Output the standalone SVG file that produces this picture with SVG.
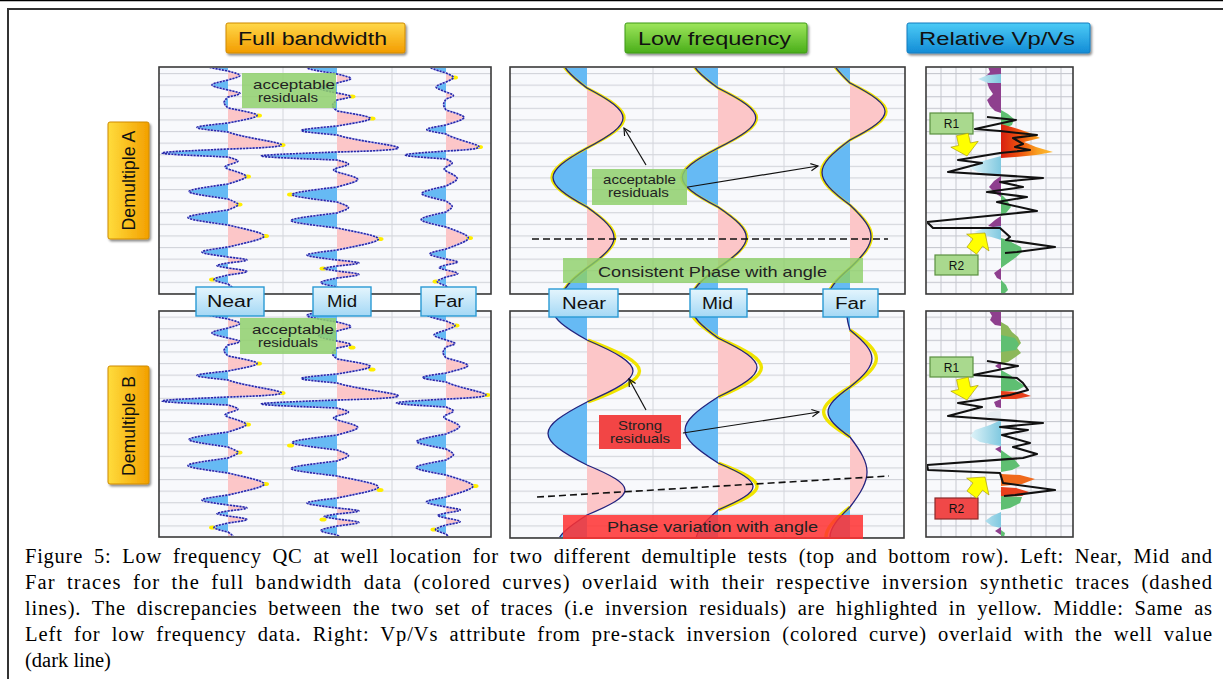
<svg xmlns="http://www.w3.org/2000/svg" width="1223" height="679" viewBox="0 0 1223 679">
<style>
.hdr{font-family:"Liberation Sans",Arial,sans-serif;font-size:18px;fill:#111}
.lbl{font-family:"Liberation Sans",Arial,sans-serif;font-size:16px;fill:#111}
.sm{font-family:"Liberation Sans",Arial,sans-serif;font-size:13px;fill:#222}
.bar{font-family:"Liberation Sans",Arial,sans-serif;font-size:15px;fill:#222}
.cap{font-family:"Liberation Serif","Times New Roman",serif;font-size:20.5px;fill:#000}
.just{word-spacing:5px}
.rt{font-family:"Liberation Sans",Arial,sans-serif;font-size:12px;fill:#111;text-anchor:middle}
.bord{fill:none;stroke:#3a3a3a;stroke-width:1.6}
.vg{stroke:#d4d6dc;stroke-width:1}
.vgr{stroke:#c6c8cf;stroke-width:1}
.neg{fill:#66baf4}
.pos{fill:#fcc6c8}
.fbline{fill:none;stroke:#b8b8f2;stroke-width:1.6}
.fbdash{fill:none;stroke:#2626a6;stroke-width:1.6;stroke-dasharray:2 1.2}
.lfy{fill:none;stroke:#f0e400;stroke-width:2.6}
.lfy2{fill:none;stroke:#f0e400;stroke-width:3.4}
.lfn{fill:none;stroke:#23237e;stroke-width:1.3}
.spot{fill:#ffee00}
.nmf{fill:url(#gLab);stroke:#2a9ad4;stroke-width:1.4}
.blk{fill:none;stroke:#111;stroke-width:2.1;stroke-linejoin:round}
.arr{stroke:#111;stroke-width:1.2;fill:none;marker-end:url(#ah)}
.dash{stroke:#111;stroke-width:1.6;stroke-dasharray:7 4;fill:none}
.pur{fill:#8e3f8e}
.lb{fill:url(#gLB)}
.grn{fill:#5fbf72}
.olv{fill:#8cb85a}
.red{fill:#e8401c}
.ya{fill:#ffff00;stroke:#a89a00;stroke-width:0.6}
.rg{fill:#a9d98e;stroke:#5b8f40;stroke-width:1.2}
.rr{fill:#f04848;stroke:#8a2a2a;stroke-width:1.2}
.gl{fill:#8fd06c;opacity:0.85}
</style>
<defs>
<linearGradient id="gOr" x1="0" y1="0" x2="0" y2="1"><stop offset="0" stop-color="#ffd84a"/><stop offset="1" stop-color="#f39c00"/></linearGradient>
<linearGradient id="gOrH" x1="0" y1="0" x2="1" y2="0"><stop offset="0" stop-color="#ffdc3c"/><stop offset="1" stop-color="#f3a000"/></linearGradient>
<linearGradient id="gGr" x1="0" y1="0" x2="0" y2="1"><stop offset="0" stop-color="#9ee65c"/><stop offset="1" stop-color="#4aae1a"/></linearGradient>
<linearGradient id="gBl" x1="0" y1="0" x2="0" y2="1"><stop offset="0" stop-color="#4ccbf6"/><stop offset="1" stop-color="#138cd6"/></linearGradient>
<linearGradient id="gLab" x1="0" y1="0" x2="0" y2="1"><stop offset="0" stop-color="#e4f5fd"/><stop offset="1" stop-color="#a4d8f5"/></linearGradient>
<linearGradient id="gLB" gradientUnits="userSpaceOnUse" x1="968" y1="0" x2="1001" y2="0"><stop offset="0" stop-color="#e8f7fb"/><stop offset="1" stop-color="#80c9e0"/></linearGradient>
<linearGradient id="gOR" gradientUnits="userSpaceOnUse" x1="1001" y1="0" x2="1053" y2="0"><stop offset="0" stop-color="#d82010"/><stop offset="0.4" stop-color="#f05a10"/><stop offset="0.7" stop-color="#f8a020"/><stop offset="1" stop-color="#ffbb30"/></linearGradient>
<pattern id="hgrid" patternUnits="userSpaceOnUse" x="0" y="73" width="20" height="11.6"><rect width="20" height="11.6" fill="#f8f9fc"/><rect width="20" height="1.1" fill="#d2d4da"/></pattern>
<pattern id="hgridR" patternUnits="userSpaceOnUse" x="0" y="73" width="20" height="11.6"><rect width="20" height="11.6" fill="#f8f9fc"/><rect width="20" height="1.1" fill="#c6c8cf"/></pattern>
<filter id="sh" x="-10%" y="-20%" width="125%" height="150%"><feDropShadow dx="1.5" dy="2" stdDeviation="1.2" flood-opacity="0.45"/></filter>
<marker id="ah" viewBox="0 0 10 10" refX="9" refY="5" markerWidth="9" markerHeight="9" markerUnits="userSpaceOnUse" orient="auto"><path d="M1,1 L9,5 L1,9" fill="none" stroke="#111" stroke-width="1.3"/></marker>
<clipPath id="cLA"><rect x="160" y="68" width="330" height="225"/></clipPath>
<clipPath id="cLB"><rect x="160" y="312" width="330" height="224"/></clipPath>
<clipPath id="cMA"><rect x="511" y="68" width="393" height="225"/></clipPath>
<clipPath id="cMB"><rect x="511" y="312" width="392" height="225"/></clipPath>
<clipPath id="cRA"><rect x="927" y="68" width="145" height="225"/></clipPath>
<clipPath id="cRB"><rect x="927" y="312" width="145" height="224"/></clipPath>
<path id="fbS" vector-effect="non-scaling-stroke" d="M0,58 C-34.7,64.5 -34.7,64.5 0,71 C16,75.5 16,75.5 0,80 C-21.3,85 -21.3,85 0,90 C16,93.5 16,93.5 0,97 C-5.3,102.5 -5.3,102.5 0,108 C38.7,115.5 38.7,115.5 0,123 C-41.3,127.5 -41.3,127.5 0,132 C27,142 105,146 0,149 C-88,153 -88,153 0,157 C13.3,161 13.3,161 0,165 C-4,167 -4,167 0,169 C24,176.5 24,176.5 0,184 C-52,191.5 -52,191.5 0,199 C13.3,204.5 13.3,204.5 0,210 C-53.3,217.5 -53.3,217.5 0,225 C48,236 48,236 0,247 C-34.7,252 -34.7,252 0,257 C25.3,260 25.3,260 0,263 C-14.7,265.5 -14.7,265.5 0,268 C25.3,271.5 25.3,271.5 0,275 C-18.7,279.5 -18.7,279.5 0,284 C8,290 8,290 0,296"/>
<path id="fbN" d="M0,58 C-34.7,64.5 -34.7,64.5 0,71Z M0,80 C-21.3,85 -21.3,85 0,90Z M0,97 C-5.3,102.5 -5.3,102.5 0,108Z M0,123 C-41.3,127.5 -41.3,127.5 0,132Z M0,149 C-88,153 -88,153 0,157Z M0,165 C-4,167 -4,167 0,169Z M0,184 C-52,191.5 -52,191.5 0,199Z M0,210 C-53.3,217.5 -53.3,217.5 0,225Z M0,247 C-34.7,252 -34.7,252 0,257Z M0,263 C-14.7,265.5 -14.7,265.5 0,268Z M0,275 C-18.7,279.5 -18.7,279.5 0,284Z"/>
<path id="fbP" d="M0,71 C16,75.5 16,75.5 0,80Z M0,90 C16,93.5 16,93.5 0,97Z M0,108 C38.7,115.5 38.7,115.5 0,123Z M0,132 C27,142 105,146 0,149Z M0,157 C13.3,161 13.3,161 0,165Z M0,169 C24,176.5 24,176.5 0,184Z M0,199 C13.3,204.5 13.3,204.5 0,210Z M0,225 C48,236 48,236 0,247Z M0,257 C25.3,260 25.3,260 0,263Z M0,268 C25.3,271.5 25.3,271.5 0,275Z M0,284 C8,290 8,290 0,296Z"/>
<path id="lfAS" vector-effect="non-scaling-stroke" d="M0,28 C-33.3,53.4 -33.3,62.6 0,88 C48,113.4 48,122.6 0,148 C-45.3,173 -45.3,182 0,207 C36,232.9 36,242.1 0,268 C-33.3,293.4 -33.3,302.6 0,328"/>
<path id="lfAN" d="M0,28 C-33.3,53.4 -33.3,62.6 0,88Z M0,148 C-45.3,173 -45.3,182 0,207Z M0,268 C-33.3,293.4 -33.3,302.6 0,328Z"/>
<path id="lfAP" d="M0,88 C48,113.4 48,122.6 0,148Z M0,207 C36,232.9 36,242.1 0,268Z"/>
<path id="lfFS" vector-effect="non-scaling-stroke" d="M0,23 C-26.7,48.4 -26.7,57.6 0,83 C46.7,107.2 46.7,115.8 0,140 C-37.3,167.6 -37.3,177.4 0,205 C28,231.7 28,241.3 0,268 C-29.3,293.4 -29.3,302.6 0,328"/>
<path id="lfFN" d="M0,23 C-26.7,48.4 -26.7,57.6 0,83Z M0,140 C-37.3,167.6 -37.3,177.4 0,205Z M0,268 C-29.3,293.4 -29.3,302.6 0,328Z"/>
<path id="lfFP" d="M0,83 C46.7,107.2 46.7,115.8 0,140Z M0,205 C28,231.7 28,241.3 0,268Z"/>
<path id="bNS" d="M0,280 C-45.3,305.4 -45.3,314.6 0,340 C61.3,366.3 61.3,375.7 0,402 C-52,428.7 -52,438.3 0,465 C50.7,486.2 50.7,493.8 0,515 C-40,540.4 -40,549.6 0,575"/>
<path id="bNN" d="M0,280 C-45.3,305.4 -45.3,314.6 0,340Z M0,402 C-52,428.7 -52,438.3 0,465Z M0,515 C-40,540.4 -40,549.6 0,575Z"/>
<path id="bNP" d="M0,340 C61.3,366.3 61.3,375.7 0,402Z M0,465 C50.7,486.2 50.7,493.8 0,515Z"/>
<path id="bNY" vector-effect="non-scaling-stroke" d="M0,340 C61.3,366.3 61.3,375.7 0,402"/>
<path id="bMS" d="M0,278 C-34.7,303.4 -34.7,312.6 0,338 C52,363 52,372 0,397 C-44,425 -44,435 0,463 C46.7,482.9 46.7,490.1 0,510 C-29.3,535.4 -29.3,544.6 0,570"/>
<path id="bMN" d="M0,278 C-34.7,303.4 -34.7,312.6 0,338Z M0,397 C-44,425 -44,435 0,463Z M0,510 C-29.3,535.4 -29.3,544.6 0,570Z"/>
<path id="bMP" d="M0,338 C52,363 52,372 0,397Z M0,463 C46.7,482.9 46.7,490.1 0,510Z"/>
<path id="bMY" vector-effect="non-scaling-stroke" d="M0,278 C-34.7,303.4 -34.7,312.6 0,338 C52,363 52,372 0,397 M0,463 C46.7,482.9 46.7,490.1 0,510"/>
<path id="bFS" d="M0,300 C-4,312.7 -4,317.3 0,330 C29.3,354.2 29.3,362.8 0,387 C-29.3,408.2 -29.3,415.8 0,437 C22.7,466.7 22.7,477.3 0,507 C-26.7,532.4 -26.7,541.6 0,567"/>
<path id="bFN" d="M0,300 C-4,312.7 -4,317.3 0,330Z M0,387 C-29.3,408.2 -29.3,415.8 0,437Z M0,507 C-26.7,532.4 -26.7,541.6 0,567Z"/>
<path id="bFP" d="M0,330 C29.3,354.2 29.3,362.8 0,387Z M0,437 C22.7,466.7 22.7,477.3 0,507Z"/>
<path id="bFY" vector-effect="non-scaling-stroke" d="M0,330 C29.3,354.2 29.3,362.8 0,387 C-29.3,408.2 -29.3,415.8 0,437 M0,507 C-26.7,532.4 -26.7,541.6 0,567"/>
<path id="yar" d="M-6,-22 L6,-22 L6,-12 L14,-12 L0,0 L-14,-12 L-6,-12 Z"/>
</defs>

<rect width="1223" height="679" fill="#fff"/>
<g id="frame">
<path d="M0,0.6H1223" stroke="#000" stroke-width="1.2"/>
<path d="M8,679V9H1223" fill="none" stroke="#333" stroke-width="2"/>
</g>

<g id="hdr-full"><rect x="226" y="23" width="179" height="30" rx="2" fill="url(#gOr)" stroke="#cf8a00" filter="url(#sh)"/><text class="hdr" x="238" y="45" textLength="149" lengthAdjust="spacingAndGlyphs">Full bandwidth</text></g>
<g id="hdr-low"><rect x="625" y="23" width="182" height="30" rx="2" fill="url(#gGr)" stroke="#3f9a16" filter="url(#sh)"/><text class="hdr" x="638" y="45" textLength="153" lengthAdjust="spacingAndGlyphs">Low frequency</text></g>
<g id="hdr-vpvs"><rect x="907" y="23" width="183" height="30" rx="2" fill="url(#gBl)" stroke="#107cc0" filter="url(#sh)"/><text class="hdr" x="919" y="45" textLength="156" lengthAdjust="spacingAndGlyphs">Relative Vp/Vs</text></g>
<g id="row-a"><rect x="108" y="122" width="41" height="117" rx="2" fill="url(#gOrH)" stroke="#cf8a00" filter="url(#sh)"/><text class="hdr" text-anchor="middle" transform="translate(134.5,180.5) rotate(-90)" textLength="100" lengthAdjust="spacingAndGlyphs">Demultiple A</text></g>
<g id="row-b"><rect x="108" y="366" width="41" height="118" rx="2" fill="url(#gOrH)" stroke="#cf8a00" filter="url(#sh)"/><text class="hdr" text-anchor="middle" transform="translate(134.5,426) rotate(-90)" textLength="100" lengthAdjust="spacingAndGlyphs">Demultiple B</text></g>

<g id="panel-fb-a">
<rect x="159" y="67" width="332" height="227" fill="url(#hgrid)"/>
<path class="vg" d="M283,67V294M392,67V294"/>
<g clip-path="url(#cLA)">
<use href="#fbN" class="neg" transform="translate(228,0)"/><use href="#fbP" class="pos" transform="translate(228,0)"/>
<use href="#fbN" class="neg" transform="translate(337,3) scale(1.15,1)"/><use href="#fbP" class="pos" transform="translate(337,3) scale(1.15,1)"/>
<use href="#fbN" class="neg" transform="translate(446,2) scale(0.62,1)"/><use href="#fbP" class="pos" transform="translate(446,2) scale(0.62,1)"/>
<g class="spot"><ellipse cx="258.5" cy="115.5" rx="3.5" ry="2"/><ellipse cx="282" cy="145" rx="3.5" ry="2"/><ellipse cx="247.5" cy="176.5" rx="3.5" ry="2"/><ellipse cx="239" cy="204.5" rx="3.5" ry="2"/><ellipse cx="265.5" cy="236" rx="3.5" ry="2"/><ellipse cx="212.5" cy="279.5" rx="3.5" ry="2"/>
<ellipse cx="352" cy="96.5" rx="3.5" ry="2"/><ellipse cx="372" cy="118.5" rx="3.5" ry="2"/><ellipse cx="290.5" cy="194.5" rx="3.5" ry="2"/><ellipse cx="380" cy="239" rx="3.5" ry="2"/><ellipse cx="323" cy="268.5" rx="3.5" ry="2"/>
<ellipse cx="454.5" cy="77.5" rx="3.5" ry="2"/><ellipse cx="479.5" cy="147" rx="3.5" ry="2"/><ellipse cx="469.5" cy="238" rx="3.5" ry="2"/><ellipse cx="436" cy="281.5" rx="3.5" ry="2"/></g>
<use href="#fbS" class="fbline" transform="translate(228,0)"/><use href="#fbS" class="fbdash" transform="translate(228,0)"/>
<use href="#fbS" class="fbline" transform="translate(337,3) scale(1.15,1)"/><use href="#fbS" class="fbdash" transform="translate(337,3) scale(1.15,1)"/>
<use href="#fbS" class="fbline" transform="translate(446,2) scale(0.62,1)"/><use href="#fbS" class="fbdash" transform="translate(446,2) scale(0.62,1)"/>
</g>
<rect class="bord" x="159" y="67" width="332" height="227"/>
</g>
<g id="note-fb-a"><rect class="gl" x="242" y="73" width="94" height="35"/><text class="sm" x="253" y="89" textLength="82" lengthAdjust="spacingAndGlyphs">acceptable</text><text class="sm" x="258" y="102" textLength="60" lengthAdjust="spacingAndGlyphs">residuals</text></g>

<g id="panel-fb-b">
<rect x="159" y="311" width="332" height="226" fill="url(#hgrid)"/>
<path class="vg" d="M283,311V537M392,311V537"/>
<g clip-path="url(#cLB)">
<use href="#fbN" class="neg" transform="translate(228,248)"/><use href="#fbP" class="pos" transform="translate(228,248)"/>
<use href="#fbN" class="neg" transform="translate(337,251) scale(1.15,1)"/><use href="#fbP" class="pos" transform="translate(337,251) scale(1.15,1)"/>
<use href="#fbN" class="neg" transform="translate(446,250) scale(0.75,1)"/><use href="#fbP" class="pos" transform="translate(446,250) scale(0.75,1)"/>
<g class="spot"><ellipse cx="258.5" cy="363.5" rx="3.5" ry="2"/><ellipse cx="282" cy="393" rx="3.5" ry="2"/><ellipse cx="247.5" cy="424.5" rx="3.5" ry="2"/><ellipse cx="239" cy="452.5" rx="3.5" ry="2"/><ellipse cx="265.5" cy="484" rx="3.5" ry="2"/><ellipse cx="212.5" cy="527.5" rx="3.5" ry="2"/>
<ellipse cx="352" cy="347.5" rx="3.5" ry="2"/><ellipse cx="372" cy="369.5" rx="3.5" ry="2"/><ellipse cx="290.5" cy="445.5" rx="3.5" ry="2"/><ellipse cx="380" cy="490" rx="3.5" ry="2"/><ellipse cx="323" cy="519.5" rx="3.5" ry="2"/>
<ellipse cx="456" cy="325.5" rx="3.5" ry="2"/><ellipse cx="487" cy="395" rx="3.5" ry="2"/><ellipse cx="475" cy="486" rx="3.5" ry="2"/><ellipse cx="434" cy="529.5" rx="3.5" ry="2"/></g>
<use href="#fbS" class="fbline" transform="translate(228,248)"/><use href="#fbS" class="fbdash" transform="translate(228,248)"/>
<use href="#fbS" class="fbline" transform="translate(337,251) scale(1.15,1)"/><use href="#fbS" class="fbdash" transform="translate(337,251) scale(1.15,1)"/>
<use href="#fbS" class="fbline" transform="translate(446,250) scale(0.75,1)"/><use href="#fbS" class="fbdash" transform="translate(446,250) scale(0.75,1)"/>
</g>
<rect class="bord" x="159" y="311" width="332" height="226"/>
</g>
<g id="note-fb-b"><rect class="gl" x="240" y="318" width="96" height="36"/><text class="sm" x="252" y="334" textLength="82" lengthAdjust="spacingAndGlyphs">acceptable</text><text class="sm" x="258" y="347" textLength="60" lengthAdjust="spacingAndGlyphs">residuals</text></g>

<g id="panel-lf-a">
<rect x="510" y="67" width="395" height="227" fill="url(#hgrid)"/>
<path class="vg" d="M653,67V294M784,67V294"/>
<g clip-path="url(#cMA)">
<use href="#lfAN" class="neg" transform="translate(587,0)"/><use href="#lfAP" class="pos" transform="translate(587,0)"/>
<use href="#lfAN" class="neg" transform="translate(718,0) scale(1.05,1)"/><use href="#lfAP" class="pos" transform="translate(718,0) scale(1.05,1)"/>
<use href="#lfFN" class="neg" transform="translate(850,0)"/><use href="#lfFP" class="pos" transform="translate(850,0)"/>
<use href="#lfAS" class="lfy" transform="translate(587,0) scale(1.04,1)"/>
<use href="#lfAS" class="lfy" transform="translate(718,0) scale(1.08,1)"/>
<use href="#lfFS" class="lfy" transform="translate(850,0) scale(1.04,1)"/>
<use href="#lfAS" class="lfn" transform="translate(587,0)"/>
<use href="#lfAS" class="lfn" transform="translate(718,0) scale(1.05,1)"/>
<use href="#lfFS" class="lfn" transform="translate(850,0)"/>
</g>
<rect class="bord" x="510" y="67" width="395" height="227"/>
</g>
<g id="phase-a"><path class="dash" d="M532,239H888"/><rect x="563" y="258" width="300" height="25" fill="#8ccf66" opacity="0.8"/><text class="bar" x="598" y="277" textLength="229" lengthAdjust="spacingAndGlyphs">Consistent Phase with angle</text></g>
<g id="note-lf-a"><rect class="gl" x="592" y="169" width="95" height="36"/><text class="sm" x="603" y="184" textLength="73" lengthAdjust="spacingAndGlyphs">acceptable</text><text class="sm" x="608" y="197" textLength="61" lengthAdjust="spacingAndGlyphs">residuals</text></g>

<g id="panel-lf-b">
<rect x="510" y="311" width="394" height="227" fill="url(#hgrid)"/>
<path class="vg" d="M653,311V538M784,311V538"/>
<g clip-path="url(#cMB)">
<use href="#bNN" class="neg" transform="translate(587,0)"/><use href="#bNP" class="pos" transform="translate(587,0)"/>
<use href="#bMN" class="neg" transform="translate(718,0)"/><use href="#bMP" class="pos" transform="translate(718,0)"/>
<use href="#bFN" class="neg" transform="translate(850,0)"/><use href="#bFP" class="pos" transform="translate(850,0)"/>
<use href="#bNY" class="lfy2" transform="translate(588,0) scale(1.12,1)"/>
<use href="#bMY" class="lfy2" transform="translate(718.5,0) scale(1.1,1)"/>
<use href="#bFY" class="lfy2" transform="translate(850,0) scale(1.2,1)"/>
<use href="#bNS" class="lfn" transform="translate(587,0)"/>
<use href="#bMS" class="lfn" transform="translate(718,0)"/>
<use href="#bFS" class="lfn" transform="translate(850,0)"/>
</g>
<rect class="bord" x="510" y="311" width="394" height="227"/>
</g>
<g id="phase-b"><path class="dash" d="M537,497L889,476"/><rect x="563" y="515" width="300" height="24" fill="#ff3030" opacity="0.85"/><text class="bar" x="607" y="532" textLength="211" lengthAdjust="spacingAndGlyphs">Phase variation with angle</text></g>
<g id="note-lf-b"><rect x="599" y="415" width="82" height="34" fill="#f24545"/><text class="sm" x="618" y="430" textLength="44" lengthAdjust="spacingAndGlyphs">Strong</text><text class="sm" x="610" y="443" textLength="60" lengthAdjust="spacingAndGlyphs">residuals</text></g>

<g id="panel-vp-a">
<rect x="926" y="67" width="147" height="227" fill="url(#hgridR)"/>
<path class="vgr" d="M941,67V294M956,67V294M971,67V294M986,67V294M1016,67V294M1031,67V294M1046,67V294M1061,67V294"/>
<g clip-path="url(#cRA)">
<path class="pur" d="M1001,67 L988,67 L990,72 L986,76 L987,82 L989,88 L993,94 L987,100 L990,106 L995,111 L1001,113 Z"/>
<path class="lb" d="M1001,74 L988,75 L978,79 L988,83 L1001,83 Z"/>
<path class="grn" d="M1001,110 L1008,114 L1014,119 L1012,125 L1001,130 Z"/>
<path fill="url(#gOR)" d="M1001,124 L1015,128 L1030,133 L1040,138 L1024,142 L1036,147 L1053,152 L1036,155 L1015,157 L1001,158 Z"/>
<path class="lb" d="M1001,156 L990,159 L976,163 L969,168 L978,172 L994,175 L1001,176 Z"/>
<path class="pur" d="M1001,176 L994,181 L989,187 L995,193 L1001,197 Z"/>
<path class="grn" d="M1001,194 L1007,200 L1011,207 L1006,213 L1001,216 Z"/>
<path class="pur" d="M1001,216 L995,220 L988,226 L998,228 L1001,229 Z"/>
<path class="lb" d="M1001,226 L985,228 L974,232 L988,236 L998,239 L1001,240 Z"/>
<path class="grn" d="M1001,238 L1008,240 L1013,243 L1021,247 L1022,252 L1015,258 L1008,263 L1001,268 Z"/>
<path class="pur" d="M1001,268 L994,273 L997,278 L1001,280 Z"/>
<path class="grn" d="M1001,280 L1006,285 L1008,290 L1004,294 L1001,294 Z"/>
<polyline class="blk" points="987,117 1016,120 975,129 1000,131 1037,135 1013,138 1023,144 1015,147 1030,150 1000,153 958,160 982,163 948,172 1043,178 1000,182 1023,187 987,192 1027,197 997,202 1037,211 1008,214 927,222 933,228 1000,228 1010,237 1006,240 1055,247 1017,252 1005,253"/>
</g>
<rect class="bord" x="926" y="67" width="147" height="227"/>
</g>
<g id="r1-a"><rect class="rg" x="930" y="113" width="43" height="21"/><text class="rt" x="951.5" y="127.5">R1</text><use href="#yar" class="ya" transform="translate(967,156) rotate(-12)"/></g>
<g id="r2-a"><rect class="rg" x="935" y="255" width="43" height="20"/><text class="rt" x="956.5" y="269.5">R2</text><use href="#yar" class="ya" transform="translate(985,233) rotate(-143)"/></g>

<g id="panel-vp-b">
<rect x="926" y="311" width="147" height="226" fill="url(#hgridR)"/>
<path class="vgr" d="M941,311V537M956,311V537M971,311V537M986,311V537M1016,311V537M1031,311V537M1046,311V537M1061,311V537"/>
<g clip-path="url(#cRB)">
<path class="pur" d="M1001,311 L989,311 L992,316 L990,320 L995,325 L1001,326 Z"/>
<path class="olv" d="M1001,322 L1008,326 L1012,332 L1018,337 L1021,343 L1017,348 L1021,353 L1014,358 L1008,362 L1001,364 Z"/>
<path class="grn" d="M1001,335 L1015,338 L1019,344 L1016,350 L1001,352 Z"/>
<path class="pur" d="M1001,362 L995,366 L1001,370 Z"/>
<path class="grn" d="M1001,370 L1010,375 L1016,380 L1025,386 L1018,390 L1001,392 Z"/>
<path class="red" d="M1001,391 L1020,392 L1031,396 L1016,399 L1001,399 Z"/>
<path class="pur" d="M1001,399 L994,402 L996,407 L1001,408 Z"/>
<path fill="#e6edf1" d="M1001,410 L990,412 L985,416 L995,419 L1001,420 Z"/>
<path class="lb" d="M1001,420 L990,425 L975,430 L970,436 L980,442 L995,445 L1001,446 Z"/>
<path class="pur" d="M1001,446 L995,449 L1001,453 Z"/>
<path class="grn" d="M1001,450 L1008,455 L1015,460 L1020,466 L1012,470 L1001,472 Z"/>
<path fill="#f06a1c" d="M1001,474 L1020,475 L1035,479 L1022,484 L1001,486 Z"/>
<path class="red" d="M1001,487 L1016,488 L1029,492 L1022,496 L1001,497 Z"/>
<path class="grn" d="M1001,496 L1022,497 L1020,503 L1010,508 L1001,510 Z"/>
<path class="lb" d="M1001,512 L992,516 L985,521 L992,526 L1001,528 Z"/>
<path class="pur" d="M1001,527 L995,531 L1001,535 Z"/>
<path class="grn" d="M1001,530 L1005,533 L1004,537 L1001,537 Z"/>
<polyline class="blk" points="987,361 1018,366 973,375 1017,378 1023,383 1028,390 1010,395 958,403 982,407 948,416 1043,423 1000,427 1028,430 1002,435 1030,443 1013,447 1037,454 1023,458 927,465 928,470 1000,473 1003,483 1055,490 1015,495 1004,496"/>
</g>
<rect class="bord" x="926" y="311" width="147" height="226"/>
</g>
<g id="r1-b"><rect class="rg" x="930" y="357" width="43" height="20"/><text class="rt" x="951.5" y="371.5">R1</text><use href="#yar" class="ya" transform="translate(967,400) rotate(-12)"/></g>
<g id="r2-b"><rect class="rr" x="935" y="498" width="43" height="21"/><text class="rt" x="956.5" y="513">R2</text><use href="#yar" class="ya" transform="translate(985,477) rotate(-143)"/></g>

<g id="connectors">
<path class="arr" d="M646,165 L624,128"/>
<path class="arr" d="M688,187 L818,166"/>
<path class="arr" d="M646,410 L629,379"/>
<path class="arr" d="M683,433 L819,412"/>
</g>

<g id="lab-near-l"><rect class="nmf" x="196" y="287" width="68" height="29"/><text class="lbl" x="207" y="307" textLength="46" lengthAdjust="spacingAndGlyphs">Near</text></g>
<g id="lab-mid-l"><rect class="nmf" x="313" y="287" width="58" height="29"/><text class="lbl" x="327" y="307" textLength="30" lengthAdjust="spacingAndGlyphs">Mid</text></g>
<g id="lab-far-l"><rect class="nmf" x="421" y="287" width="55" height="29"/><text class="lbl" x="434" y="307" textLength="30" lengthAdjust="spacingAndGlyphs">Far</text></g>
<g id="lab-near-m"><rect class="nmf" x="549" y="289" width="69" height="28"/><text class="lbl" x="562" y="309" textLength="44" lengthAdjust="spacingAndGlyphs">Near</text></g>
<g id="lab-mid-m"><rect class="nmf" x="690" y="289" width="57" height="28"/><text class="lbl" x="702" y="309" textLength="31" lengthAdjust="spacingAndGlyphs">Mid</text></g>
<g id="lab-far-m"><rect class="nmf" x="823" y="289" width="55" height="28"/><text class="lbl" x="835" y="309" textLength="31" lengthAdjust="spacingAndGlyphs">Far</text></g>

<g id="caption">
<text class="cap just" x="25" y="563" textLength="1187" lengthAdjust="spacing">Figure 5: Low frequency QC at well location for two different demultiple tests (top and bottom row). Left: Near, Mid and</text>
<text class="cap just" x="25" y="589" textLength="1187" lengthAdjust="spacing">Far traces for the full bandwidth data (colored curves) overlaid with their respective inversion synthetic traces (dashed</text>
<text class="cap just" x="25" y="615" textLength="1187" lengthAdjust="spacing">lines). The discrepancies between the two set of traces (i.e inversion residuals) are highlighted in yellow. Middle: Same as</text>
<text class="cap just" x="25" y="641" textLength="1187" lengthAdjust="spacing">Left for low frequency data. Right: Vp/Vs attribute from pre-stack inversion (colored curve) overlaid with the well value</text>
<text class="cap" x="25" y="667">(dark line)</text>
</g>
</svg>
